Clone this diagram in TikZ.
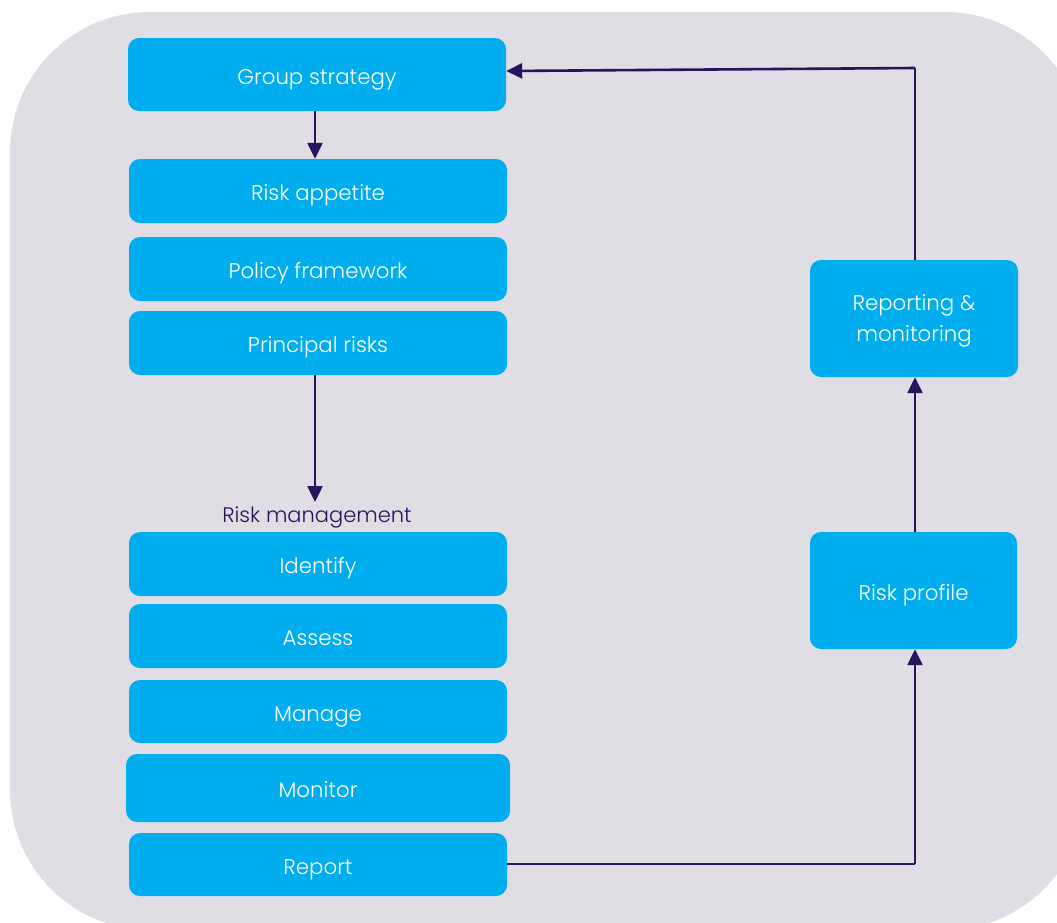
\documentclass[tikz,border=0pt]{standalone}
\usepackage{fontspec}
\setmainfont{Poppins}[UprightFont=* Light]
\usetikzlibrary{arrows.meta}
\definecolor{bgc}{HTML}{E0DDE5}
\definecolor{boxc}{HTML}{00AEEF}
\definecolor{navy}{HTML}{25145E}
\tikzset{
  blk/.style={fill=boxc, draw=none, rounded corners=11pt, text=white, font=\fontsize{21.3}{31}\selectfont, align=center, inner sep=0pt, text height=19pt, text depth=0pt},
  txt/.style={text=white, font=\fontsize{21.3}{31}\selectfont, align=center, inner sep=0pt},
  conn/.style={draw=navy, line width=2.4pt, -{Triangle[length=16pt,width=15pt]}},
  thin/.style={draw=navy, line width=1.8pt},
}
\begin{document}
\begin{tikzpicture}[x=1pt,y=-1pt]
\useasboundingbox (0,0) rectangle (1057,922);
\begin{scope}
\clip (0,0) rectangle (1057,922);
\fill[bgc, rounded corners=140pt] (10,12) rectangle (1085,930);
\end{scope}
% left column
\node[blk, minimum width=378pt, minimum height=73pt] (gs) at (317,74.5) {Group strategy};
\node[blk, minimum width=378pt, minimum height=64pt] (ra) at (318,191) {Risk appetite};
\node[blk, minimum width=378pt, minimum height=64pt] (pf) at (318,269) {Policy framework};
\node[blk, minimum width=378pt, minimum height=64pt] (pr) at (318,343) {Principal risks};
\node[text=navy, font=\fontsize{21}{25}\selectfont, inner sep=0pt, anchor=base] (rm) at (317,522) {Risk management};
\node[blk, minimum width=378pt, minimum height=64pt] (id) at (318,564) {Identify};
\node[blk, minimum width=378pt, minimum height=64pt] (as) at (318,636) {Assess};
\node[blk, minimum width=378pt, minimum height=63pt] (mg) at (318,711.5) {Manage};
\node[blk, minimum width=384pt, minimum height=68pt] (mo) at (318,788) {Monitor};
\node[blk, minimum width=378pt, minimum height=63pt] (rp) at (318,864.5) {Report};
% right column
\node[blk, minimum width=208pt, minimum height=117pt] (rmon) at (914,318.5) {};
\node[txt] (rmontxt) at ([yshift=-2.5pt]rmon.center) {Reporting \&\\monitoring};
\node[blk, minimum width=207pt, minimum height=117pt] (rprof) at (913.5,590.5) {Risk profile};
% connectors
\coordinate (c1) at (915,864);
\coordinate (c2) at (915,68);
\coordinate (rmtop) at (315,502);
\draw[conn] (gs.south -| 315,0) -- (ra.north -| 315,0);
\draw[conn] (pr.south -| rmtop) -- (rmtop);
\draw[thin, line width=1.6pt] (rp.east |- 0,864) -- (c1);
\draw[conn] (c1) -- (rprof.south -| c1);
\draw[conn] (rprof.north -| c1) -- (rmon.south -| c1);
\draw[thin, line width=1.4pt] (rmon.north -| c2) -- (c2);
\draw[conn, line width=2.6pt] (c2) -- (gs.east |- 0,71);
\end{tikzpicture}
\end{document}
